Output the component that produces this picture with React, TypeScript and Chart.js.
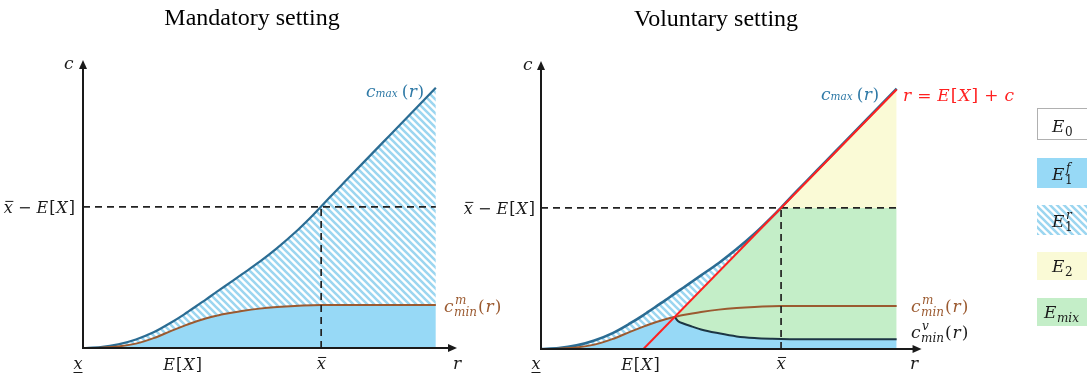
import React, { useEffect, useRef } from "react";
import { Chart, registerables } from "chart.js";

Chart.register(...registerables);

// ---------------- data ----------------
const R = [0, 0.5, 1, 1.5, 2, 2.5, 2.88, 3, 3.5, 3.76, 3.85, 4, 4.25, 4.5, 5, 5.5, 6, 6.5, 6.75, 7, 7.5, 8, 8.5, 9, 9.5, 10];
const C_MAX = [0, 0.025, 0.1, 0.235, 0.43, 0.7, 0.93, 1.01, 1.34, 1.52, 1.58, 1.68, 1.85, 2.02, 2.36, 2.74, 3.16, 3.63, 3.88, 4.14, 4.64, 5.14, 5.64, 6.14, 6.64, 7.14];
const C_MIN_M = [0, 0.01, 0.04, 0.12, 0.27, 0.47, 0.615, 0.66, 0.815, 0.88, 0.9, 0.93, 0.975, 1.015, 1.08, 1.125, 1.155, 1.173, 1.178, 1.18, 1.18, 1.18, 1.18, 1.18, 1.18, 1.18];
const C_MIN_V = [null, null, null, null, null, null, null, null, null, 0.88, 0.77, 0.7, 0.615, 0.535, 0.43, 0.345, 0.3, 0.278, 0.272, 0.27, 0.27, 0.27, 0.27, 0.27, 0.27, 0.27];
const RED_R = [2.88, 10]; // r = E[X] + c
const RED_C = [0, 7.12];
const E_X = 2.88;
const X_BAR = 6.75;
const LEVEL = 3.87; // x̄ − E[X]
const R_END = 10;
const X_MAX = 10.6;
const Y_MAX = 7.9;

const TITLES = ["Mandatory setting", "Voluntary setting"];
const LEGEND_KEYS = ["E0", "E1f", "E1r", "E2", "Emix"];

// ---------------- styles ----------------
const BLUE = "rgb(151,217,246)";
const GREEN = "rgb(196,238,200)";
const YELLOW = "rgb(250,250,214)";
const HATCH = "rgb(156,214,240)";
const CMAX_C = "#2b6c93";
const CMAX_TXT = "#2e79a6";
const BROWN = "#9b5a30";
const DARK = "#1d3644";
const RED = "#ff2020";
const INK = "#1a1a1a";
const MATH = '"DejaVu Serif", serif';

function makeHatch(): CanvasPattern | string {
  const s = 7;
  const c = document.createElement("canvas");
  c.width = s;
  c.height = s;
  const g = c.getContext("2d");
  if (!g) return HATCH;
  g.fillStyle = "#ffffff";
  g.fillRect(0, 0, s, s);
  g.strokeStyle = HATCH;
  g.lineWidth = 2.6;
  g.beginPath();
  g.moveTo(-1, -1);
  g.lineTo(s + 1, s + 1);
  g.moveTo(-2, s - 2);
  g.lineTo(2, s + 2);
  g.moveTo(s - 2, -2);
  g.lineTo(s + 2, 2);
  g.stroke();
  return g.createPattern(c, "repeat") || HATCH;
}

const pts = (xs: number[], ys: (number | null)[]) => xs.map((x, i) => ({ x, y: ys[i] }));
const redAt = (r: number): number | null =>
  r < RED_R[0] ? null : RED_C[0] + ((r - RED_R[0]) * (RED_C[1] - RED_C[0])) / (RED_R[1] - RED_R[0]);

function ds(label: string, data: any[], extra: any) {
  return { label, data, pointRadius: 0, pointHoverRadius: 0, borderWidth: 2, fill: false, ...extra };
}

// ---------------- text helpers ----------------
type Part = { t: string; s: number; i?: boolean; dx?: number; dy?: number };
const fnt = (s: number, it?: boolean) => `${it ? "italic " : ""}${s}px ${MATH}`;

function runWidth(ctx: CanvasRenderingContext2D, parts: Part[]) {
  let w = 0;
  for (const p of parts) {
    ctx.font = fnt(p.s, p.i);
    w += ctx.measureText(p.t).width + (p.dx || 0);
  }
  return w;
}
function drawRun(ctx: CanvasRenderingContext2D, x: number, y: number, parts: Part[], color: string) {
  ctx.fillStyle = color;
  ctx.textAlign = "left";
  ctx.textBaseline = "alphabetic";
  let cx = x;
  for (const p of parts) {
    ctx.font = fnt(p.s, p.i);
    cx += p.dx || 0;
    ctx.fillText(p.t, cx, y + (p.dy || 0));
    cx += ctx.measureText(p.t).width;
  }
  return cx;
}
const EX = (s: number): Part[] => [
  { t: "E", s, i: true },
  { t: "[", s, dx: 1 },
  { t: "X", s, i: true, dx: 1 },
  { t: "]", s, dx: 1 },
];

function xBar(ctx: CanvasRenderingContext2D, cx: number, y: number, s: number, color: string) {
  ctx.font = fnt(s, true);
  const w = ctx.measureText("x").width;
  ctx.fillStyle = color;
  ctx.textAlign = "left";
  ctx.fillText("x", cx - w / 2, y);
  ctx.strokeStyle = color;
  ctx.lineWidth = 1;
  ctx.beginPath();
  ctx.moveTo(cx - w / 2 + 1.5, y - s * 0.72);
  ctx.lineTo(cx + w / 2 + 0.5, y - s * 0.72);
  ctx.stroke();
  return w;
}
function xUnder(ctx: CanvasRenderingContext2D, cx: number, y: number, s: number, color: string) {
  ctx.font = fnt(s, true);
  const w = ctx.measureText("x").width;
  ctx.fillStyle = color;
  ctx.textAlign = "left";
  ctx.fillText("x", cx - w / 2, y);
  ctx.strokeStyle = color;
  ctx.lineWidth = 1;
  ctx.beginPath();
  ctx.moveTo(cx - w / 2, y + 3.5);
  ctx.lineTo(cx + w / 2, y + 3.5);
  ctx.stroke();
}
function levelLabel(ctx: CanvasRenderingContext2D, right: number, y: number) {
  const s = 16;
  const parts: Part[] = [{ t: "x", s, i: true }, { t: " − ", s }, ...EX(s)];
  const w = runWidth(ctx, parts);
  const x0 = right - w;
  ctx.font = fnt(s, true);
  const wx = ctx.measureText("x").width;
  xBar(ctx, x0 + wx / 2, y, s, INK);
  drawRun(ctx, x0 + wx, y, parts.slice(1), INK);
}
function cmaxLabel(ctx: CanvasRenderingContext2D, x: number, y: number) {
  drawRun(ctx, x, y, [
    { t: "c", s: 17, i: true },
    { t: "max", s: 10.5, i: true, dx: 0 },
    { t: "(", s: 17, dx: 4 },
    { t: "r", s: 17, i: true, dx: 0.5 },
    { t: ")", s: 17, dx: 0.5 },
  ], CMAX_TXT);
}
function cminLabel(ctx: CanvasRenderingContext2D, x: number, y: number, sup: string, color: string) {
  ctx.fillStyle = color;
  ctx.textAlign = "left";
  ctx.font = fnt(17, true);
  ctx.fillText("c", x, y);
  const xs = x + ctx.measureText("c").width + 0.5;
  ctx.font = fnt(12, true);
  ctx.fillText(sup, xs + 1, y - 8);
  ctx.fillText("min", xs, y + 4);
  const wm = Math.max(ctx.measureText("min").width, ctx.measureText(sup).width + 1);
  drawRun(ctx, xs + wm, y, [
    { t: "(", s: 17, dx: 1 },
    { t: "r", s: 17, i: true, dx: 1 },
    { t: ")", s: 17, dx: 1 },
  ], color);
}
function arrowAxes(chart: any, xEnd: number) {
  const { ctx, scales, chartArea } = chart;
  const x0 = scales.x.getPixelForValue(0);
  const y0 = scales.y.getPixelForValue(0);
  const xe = scales.x.getPixelForValue(xEnd);
  const ye = chartArea.top;
  ctx.save();
  ctx.strokeStyle = INK;
  ctx.fillStyle = INK;
  ctx.lineWidth = 2;
  ctx.beginPath();
  ctx.moveTo(x0, y0);
  ctx.lineTo(xe - 6, y0);
  ctx.moveTo(x0, y0 + 1);
  ctx.lineTo(x0, ye + 6);
  ctx.stroke();
  ctx.beginPath();
  ctx.moveTo(xe, y0);
  ctx.lineTo(xe - 9, y0 - 4);
  ctx.lineTo(xe - 9, y0 + 4);
  ctx.closePath();
  ctx.fill();
  ctx.beginPath();
  ctx.moveTo(x0, ye);
  ctx.lineTo(x0 - 4, ye + 9);
  ctx.lineTo(x0 + 4, ye + 9);
  ctx.closePath();
  ctx.fill();
  ctx.restore();
}
function bottomLabels(chart: any, rLabelX: number, exShift: number) {
  const { ctx, scales } = chart;
  const yb = 370;
  const s = 16;
  xUnder(ctx, scales.x.getPixelForValue(0) - 5, yb - 1, s, INK);
  const ex = EX(s);
  const w = runWidth(ctx, ex);
  drawRun(ctx, scales.x.getPixelForValue(E_X) - w / 2 + exShift, yb, ex, INK);
  xBar(ctx, scales.x.getPixelForValue(X_BAR), yb - 1, s, INK);
  drawRun(ctx, rLabelX, yb - 1, [{ t: "r", s: 17, i: true }], INK);
}
function title(ctx: CanvasRenderingContext2D, t: string, cx: number, y: number) {
  ctx.font = '24px "Liberation Serif", serif';
  ctx.fillStyle = "#000";
  ctx.textAlign = "center";
  ctx.textBaseline = "alphabetic";
  ctx.fillText(t, cx, y);
}

function legendEntry(ctx: CanvasRenderingContext2D, key: string, x: number, top: number, h: number, hatch: any) {
  const w = 60;
  if (key === "E0") {
    ctx.fillStyle = "#fff";
    ctx.fillRect(x, top, w, h);
    ctx.strokeStyle = "#b0b0b0";
    ctx.lineWidth = 1;
    ctx.strokeRect(x + 0.5, top + 0.5, w, h - 1);
  } else {
    ctx.fillStyle = key === "E1f" ? BLUE : key === "E1r" ? hatch : key === "E2" ? YELLOW : GREEN;
    ctx.fillRect(x, top, w, h);
  }
  const base = top + h - 8;
  ctx.fillStyle = INK;
  ctx.textAlign = "left";
  ctx.font = fnt(17, true);
  const ex = key === "Emix" ? x + 7 : x + 15;
  ctx.fillText("E", ex, base);
  const xs = ex + ctx.measureText("E").width + 0.5;
  if (key === "E0") { ctx.font = fnt(12); ctx.fillText("0", xs, base + 4); }
  if (key === "E2") { ctx.font = fnt(12); ctx.fillText("2", xs, base + 4); }
  if (key === "Emix") { ctx.font = fnt(12, true); ctx.fillText("mix", xs, base + 4); }
  if (key === "E1f" || key === "E1r") {
    ctx.font = fnt(12, true);
    ctx.fillText(key === "E1f" ? "f" : "r", xs + 1, base - 8);
    ctx.font = fnt(12);
    ctx.fillText("1", xs, base + 4);
  }
}

export default function App() {
  const leftRef = useRef<HTMLCanvasElement>(null);
  const rightRef = useRef<HTMLCanvasElement>(null);

  useEffect(() => {
    const hatch = makeHatch();

    // ---------- left: mandatory ----------
    const leftPlugin = {
      id: "leftDeco",
      afterDraw(chart: any) {
        const { ctx, scales } = chart;
        ctx.save();
        arrowAxes(chart, 10.6);
        title(ctx, TITLES[0], 252, 25);
        drawRun(ctx, 64, 69, [{ t: "c", s: 17, i: true }], INK);
        levelLabel(ctx, 75, scales.y.getPixelForValue(LEVEL) + 6);
        bottomLabels(chart, 453, -2);
        cmaxLabel(ctx, 366, 97);
        cminLabel(ctx, 444, 312, "m", BROWN);
        ctx.restore();
      },
    };
    const left = new Chart(leftRef.current as HTMLCanvasElement, {
      type: "line",
      data: {
        datasets: [
          ds("c_max(r)", pts(R, C_MAX), { borderColor: CMAX_C, borderWidth: 2.2, backgroundColor: hatch, fill: 1, cubicInterpolationMode: "monotone", order: 3 }),
          ds("c_min^m(r)", pts(R, C_MIN_M), { borderColor: BROWN, backgroundColor: BLUE, fill: "origin", cubicInterpolationMode: "monotone", order: 2 }),
          ds("level", [{ x: 0, y: LEVEL }, { x: R_END, y: LEVEL }], { borderColor: "#222", borderWidth: 1.7, borderDash: [7, 5], order: 1 }),
          ds("xbar", [{ x: X_BAR, y: 0 }, { x: X_BAR, y: LEVEL }], { borderColor: "#222", borderWidth: 1.7, borderDash: [7, 5], order: 1 }),
        ],
      },
      options: {
        animation: false,
        responsive: false,
        events: [],
        layout: { padding: { left: 83, right: 83, top: 60, bottom: 28 } },
        scales: {
          x: { type: "linear", min: 0, max: X_MAX, display: false },
          y: { type: "linear", min: 0, max: Y_MAX, display: false },
        },
        plugins: { legend: { display: false }, tooltip: { enabled: false }, filler: { propagate: false, drawTime: "beforeDatasetsDraw" } as any },
      },
      plugins: [leftPlugin],
    } as any);

    // ---------- right: voluntary ----------
    const blueTop = R.map((r, i) => (C_MIN_V[i] ?? C_MIN_M[i]));
    const hatchLow = R.map((r, i) => {
      const rd = redAt(r);
      return rd == null ? C_MIN_M[i] : Math.max(C_MIN_M[i], rd);
    });
    const greenTop = R.map((r, i) => (C_MIN_V[i] == null ? null : Math.min(redAt(r) as number, LEVEL)));
    const yellowTop = R.map((r) => (r >= X_BAR ? redAt(r) : null));
    const OX = 460;

    const rightPlugin = {
      id: "rightDeco",
      afterDraw(chart: any) {
        const { ctx, scales } = chart;
        ctx.save();
        arrowAxes(chart, 10.7);
        title(ctx, TITLES[1], 716 - OX, 26);
        drawRun(ctx, 523 - OX, 70, [{ t: "c", s: 17, i: true }], INK);
        levelLabel(ctx, 535 - OX, scales.y.getPixelForValue(LEVEL) + 6);
        bottomLabels(chart, 910 - OX, -3);
        cmaxLabel(ctx, 821 - OX, 100);
        // red line label
        drawRun(ctx, 903 - OX, 101, [
          { t: "r", s: 17, i: true },
          { t: "=", s: 17, dx: 6 },
          ...EX(17).map((p, k) => (k === 0 ? { ...p, dx: 6 } : p)),
          { t: "+", s: 17, dx: 6 },
          { t: "c", s: 17, i: true, dx: 6 },
        ], RED);
        cminLabel(ctx, 911 - OX, 312, "m", BROWN);
        cminLabel(ctx, 911 - OX, 338, "v", INK);
        // legend
        const tops = [108, 158, 205, 252, 298];
        const hs = [32, 30, 30, 28, 28];
        LEGEND_KEYS.forEach((k, i) => legendEntry(ctx, k, 1037 - OX, tops[i], hs[i], hatch));
        ctx.restore();
      },
    };

    const right = new Chart(rightRef.current as HTMLCanvasElement, {
      type: "line",
      data: {
        datasets: [
          ds("E1f", pts(R, blueTop), { borderWidth: 0, borderColor: "rgba(0,0,0,0)", backgroundColor: BLUE, fill: "origin", cubicInterpolationMode: "monotone", order: 10 }),
          ds("hatchLow", pts(R, hatchLow), { borderWidth: 0, borderColor: "rgba(0,0,0,0)", cubicInterpolationMode: "monotone", order: 10 }),
          ds("c_max(r)", pts(R, C_MAX), { borderColor: CMAX_C, borderWidth: 2.6, backgroundColor: hatch, fill: 1, cubicInterpolationMode: "monotone", order: 4 }),
          ds("c_min^v(r)", pts(R, C_MIN_V), { borderColor: DARK, backgroundColor: GREEN, cubicInterpolationMode: "monotone", order: 3 }),
          ds("Emix", pts(R, greenTop), { borderWidth: 0, borderColor: "rgba(0,0,0,0)", backgroundColor: GREEN, fill: 3, order: 10 }),
          ds("E2", pts(R, yellowTop), { borderWidth: 0, borderColor: "rgba(0,0,0,0)", backgroundColor: YELLOW, fill: { value: LEVEL }, order: 10 }),
          ds("c_min^m(r)", pts(R, C_MIN_M), { borderColor: BROWN, cubicInterpolationMode: "monotone", order: 3 }),
          ds("r = E[X] + c", pts(RED_R, RED_C), { borderColor: RED, borderWidth: 2, order: 1 }),
          ds("level", [{ x: 0, y: LEVEL }, { x: R_END, y: LEVEL }], { borderColor: "#222", borderWidth: 1.7, borderDash: [7, 5], order: 2 }),
          ds("xbar", [{ x: X_BAR, y: 0 }, { x: X_BAR, y: LEVEL }], { borderColor: "#222", borderWidth: 1.7, borderDash: [7, 5], order: 2 }),
        ],
      },
      options: {
        animation: false,
        responsive: false,
        events: [],
        layout: { padding: { left: 81, right: 169, top: 61, bottom: 27 } },
        scales: {
          x: { type: "linear", min: 0, max: X_MAX, display: false },
          y: { type: "linear", min: 0, max: Y_MAX, display: false },
        },
        plugins: { legend: { display: false }, tooltip: { enabled: false }, filler: { propagate: false, drawTime: "beforeDatasetsDraw" } as any },
      },
      plugins: [rightPlugin],
    } as any);

    return () => {
      left.destroy();
      right.destroy();
    };
  }, []);

  return (
    <div style={{ position: "absolute", left: 0, top: 0, width: 1087, height: 376, background: "#fff", overflow: "hidden" }}>
      <canvas ref={leftRef} width={540} height={376} style={{ position: "absolute", left: 0, top: 0 }} />
      <canvas ref={rightRef} width={627} height={376} style={{ position: "absolute", left: 460, top: 0 }} />
    </div>
  );
}
